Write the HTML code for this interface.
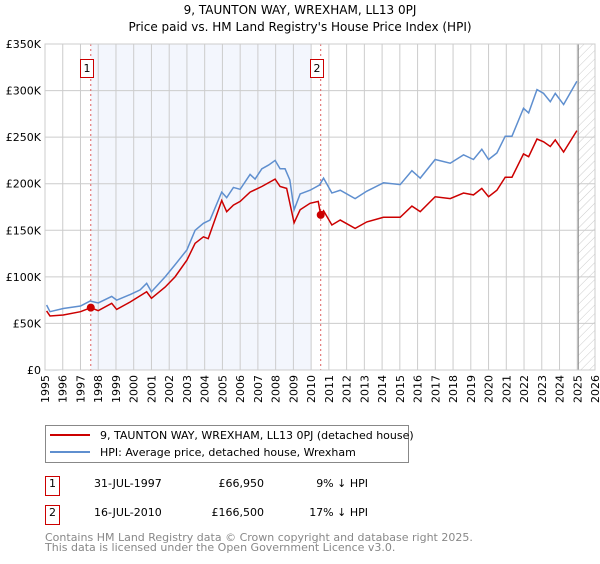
<!DOCTYPE html>
<html><head><meta charset="utf-8"><style>
body{margin:0;background:#fff;width:600px;height:560px;overflow:hidden;font-family:"DejaVu Sans","Liberation Sans",sans-serif}
text{font-family:"DejaVu Sans","Liberation Sans",sans-serif}
</style></head><body>
<svg id="chart" width="600" height="560" xmlns="http://www.w3.org/2000/svg">
<defs><pattern id="hatch" width="6" height="6" patternUnits="userSpaceOnUse" patternTransform="rotate(45)"><line x1="0" y1="0" x2="0" y2="6" stroke="#ccc" stroke-width="1"/></pattern></defs>
<text x="300" y="14" font-size="12" text-anchor="middle">9, TAUNTON WAY, WREXHAM, LL13 0PJ</text>
<text x="300" y="31" font-size="12" text-anchor="middle">Price paid vs. HM Land Registry's House Price Index (HPI)</text>
<g id="grid"></g><g id="series"></g><g id="axes"></g>
<g>
<rect x="45.5" y="425.5" width="363" height="37" fill="#fff" stroke="#888"/>
<line x1="50" y1="435" x2="90" y2="435" stroke="#cc0000" stroke-width="2"/>
<text x="100" y="439" font-size="11">9, TAUNTON WAY, WREXHAM, LL13 0PJ (detached house)</text>
<line x1="50" y1="452" x2="90" y2="452" stroke="#5f8fcf" stroke-width="2"/>
<text x="100" y="456" font-size="11">HPI: Average price, detached house, Wrexham</text>
</g>
<g font-size="11">
<rect x="45.5" y="476.5" width="14" height="19" fill="#fff" stroke="#c00"/><text x="52.5" y="487" text-anchor="middle">1</text>
<text x="94" y="487">31-JUL-1997</text><text x="264" y="487" text-anchor="end">£66,950</text><text x="368" y="487" text-anchor="end">9% ↓ HPI</text>
<rect x="45.5" y="505.5" width="14" height="19" fill="#fff" stroke="#c00"/><text x="52.5" y="516" text-anchor="middle">2</text>
<text x="94" y="516">16-JUL-2010</text><text x="264" y="516" text-anchor="end">£166,500</text><text x="368" y="516" text-anchor="end">17% ↓ HPI</text>
</g>
<text x="45" y="541" font-size="11" fill="#888">Contains HM Land Registry data © Crown copyright and database right 2025.</text>
<text x="45" y="551" font-size="11" fill="#888">This data is licensed under the Open Government Licence v3.0.</text>
</svg>
<script>
const hpiYears=[1995.09,1995.28,1996.03,1997.0,1997.54,1998.0,1998.76,1999.04,1999.8,2000.36,2000.73,2001.0,2001.77,2002.33,2003.0,2003.46,2003.93,2004.3,2004.96,2005.24,2005.62,2006.0,2006.56,2006.84,2007.22,2007.6,2007.97,2008.25,2008.53,2008.8,2009.04,2009.38,2009.94,2010.47,2010.7,2011.17,2011.64,2012.48,2013.14,2014.08,2015.02,2015.68,2016.15,2016.99,2017.84,2018.59,2019.15,2019.62,2020.0,2020.47,2020.94,2021.32,2021.97,2022.26,2022.73,2023.1,2023.48,2023.76,2024.23,2024.98];
const hpiValues=[69.8,62.6,66,68.7,74,72,79,75,81,86,93,84,100,113,129,150,157.5,161,191,185,196,194,210,205,216,220,225,216,216,204,172,189,193,198.6,206,190,193,184,192,201,199,214,206,226,222,231,226,237,226,233,251,251,281,276,301,297,288,297,285,310];
const propYears=[1995.09,1995.28,1996.03,1997.0,1997.58,1998.0,1998.76,1999.04,1999.8,2000.73,2001.0,2001.77,2002.33,2003.0,2003.46,2003.93,2004.2,2004.96,2005.24,2005.62,2006.0,2006.56,2007.22,2007.97,2008.25,2008.62,2009.04,2009.38,2009.94,2010.4,2010.54,2010.7,2011.17,2011.64,2012.48,2013.14,2014.08,2015.02,2015.68,2016.15,2016.99,2017.84,2018.59,2019.15,2019.62,2020.0,2020.47,2020.94,2021.32,2021.97,2022.26,2022.73,2023.1,2023.48,2023.76,2024.23,2024.98];
const propValues=[63.4,58,59,62.6,66.95,63.7,71.6,65,73,84,77,89,100,118,136,143,141,182,170,177,181,191,197,205,197,195,158,172,179,181,166.5,171,155.7,161,152,159,164,164,176,170,186,184,190,188,195,186,193,207,207,232,229,248,245,240,247,234,257];
const saleYears=[1997.58,2010.54];
const saleValues=[66.95,166.5];
const yTicks=[0,50,100,150,200,250,300,350];
const xTicks=[1995,1996,1997,1998,1999,2000,2001,2002,2003,2004,2005,2006,2007,2008,2009,2010,2011,2012,2013,2014,2015,2016,2017,2018,2019,2020,2021,2022,2023,2024,2025,2026];
const X0=45,X1=595,Y0=370,Y1=44;
const xs=y=>X0+(y-1995)/31*(X1-X0);
const ys=v=>Y0-v/350*(Y0-Y1);
const NS="http://www.w3.org/2000/svg";
function mk(p,t,a){const e=document.createElementNS(NS,t);for(const k in a)e.setAttribute(k,a[k]);p.appendChild(e);return e;}
const grid=document.getElementById('grid'),ser=document.getElementById('series'),ax=document.getElementById('axes');
const shade=mk(grid,'rect',{x:xs(1997.58),y:Y1,width:xs(2010)-xs(1997.58),height:Y0-Y1,fill:'#f3f6fd'});


const hat=mk(grid,'rect',{x:xs(2025),y:Y1,width:X1-xs(2025),height:Y0-Y1,fill:'url(#hatch)'});


yTicks.forEach(t=>{const l=mk(grid,'line',{x1:X0,x2:X1,y1:ys(t),y2:ys(t),stroke:'#ccc'});


const tx=mk(ax,'text',{x:X0-4,y:ys(t)+4,'font-size':11,'text-anchor':'end'});tx.textContent=t===0?'£0':'£'+t+'K';

});
xTicks.forEach(t=>{const l=mk(grid,'line',{x1:xs(t),x2:xs(t),y1:Y1,y2:Y0,stroke:'#ccc'});


const tx=mk(ax,'text',{x:0,y:0,'font-size':11,'text-anchor':'end',transform:`translate(${xs(t)+4},${Y0+5}) rotate(-90)`});tx.textContent=t;

});
const vl=mk(grid,'line',{x1:xs(2025)+1,x2:xs(2025)+1,y1:Y1,y2:Y0,stroke:'#888'});


const fr=mk(ax,'rect',{x:X0,y:Y1,width:X1-X0,height:Y0-Y1,fill:'none',stroke:'#ccc'});


saleYears.forEach((y,i)=>{const l=mk(ser,'line',{x1:xs(y),x2:xs(y),y1:Y1,y2:Y0,stroke:'#e06060','stroke-dasharray':'2,3'});


const b=mk(ser,'rect',{x:Math.round(xs(y)-11)+0.5,y:59.5,width:13,height:18,fill:'#fff',stroke:'#c00'});


const t=mk(ser,'text',{x:Math.round(xs(y)-11)+7,y:72,'font-size':11,'text-anchor':'middle'});t.textContent=i+1;

});
const hp=mk(ser,'polyline',{points:hpiYears.map((y,i)=>xs(y)+','+ys(hpiValues[i])).join(' '),fill:'none',stroke:'#5f8fcf','stroke-width':1.5});


const pp=mk(ser,'polyline',{points:propYears.map((y,i)=>xs(y)+','+ys(propValues[i])).join(' '),fill:'none',stroke:'#cc0000','stroke-width':1.5});


saleYears.forEach((y,i)=>{const c=mk(ser,'circle',{cx:xs(y),cy:ys(saleValues[i]),r:4,fill:'#cc0000'});

});
</script>
</body></html>
